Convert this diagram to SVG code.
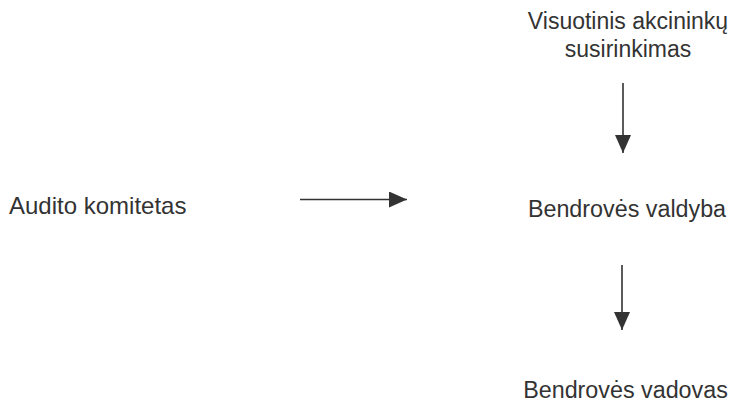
<svg xmlns="http://www.w3.org/2000/svg" width="738" height="403" viewBox="0 0 738 403">
<defs>
<style>
.lbl{font-family:"Liberation Sans",Arial,sans-serif;font-size:23.3px;fill:#333;}
.conn{stroke:#333;stroke-width:1.6;fill:none;}
</style>
<marker id="ah" markerUnits="userSpaceOnUse" markerWidth="18" markerHeight="16" viewBox="0 0 18 16" refX="18" refY="8" orient="auto">
<path d="M0,0 L18,8 L0,16 Z" fill="#333"/>
</marker>
</defs>
<rect width="738" height="403" fill="#ffffff"/>
<g id="visuotinis">
<text class="lbl" x="628" y="29" text-anchor="middle" style="font-size:23px">Visuotinis akcininkų</text>
<text class="lbl" x="628" y="57" text-anchor="middle" style="font-size:23px">susirinkimas</text>
</g>
<g id="audito">
<text class="lbl" x="9" y="214" style="font-size:24px">Audito komitetas</text>
</g>
<g id="valdyba">
<text class="lbl" x="627" y="217" text-anchor="middle">Bendrovės valdyba</text>
</g>
<g id="vadovas">
<text class="lbl" x="625.5" y="398" text-anchor="middle">Bendrovės vadovas</text>
</g>
<g id="connectors">
<line class="conn" x1="623" y1="83" x2="623" y2="153" marker-end="url(#ah)"/>
<line class="conn" x1="300" y1="199.5" x2="407" y2="199.5" marker-end="url(#ah)"/>
<line class="conn" x1="622" y1="265" x2="622" y2="330" marker-end="url(#ah)"/>
</g>
</svg>
